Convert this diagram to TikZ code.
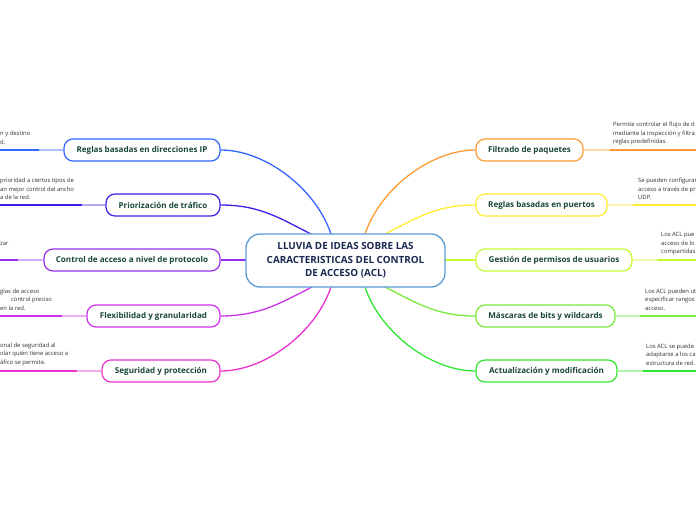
\documentclass[tikz,border=0pt]{standalone}
\usepackage{fontspec}
\setmainfont{Open Sans}
\definecolor{cIP}{RGB}{51,102,255}
\definecolor{cPrio}{RGB}{64,32,230}
\definecolor{cCtrl}{RGB}{150,50,235}
\definecolor{cFlex}{RGB}{205,50,235}
\definecolor{cSeg}{RGB}{235,50,205}
\definecolor{cFilt}{RGB}{255,155,50}
\definecolor{cPuer}{RGB}{255,235,50}
\definecolor{cGest}{RGB}{200,250,50}
\definecolor{cMasc}{RGB}{120,235,60}
\definecolor{cAct}{RGB}{50,230,50}
\definecolor{cCenter}{RGB}{90,155,215}
\definecolor{tCenter}{RGB}{25,40,80}
\definecolor{tBranch}{RGB}{25,70,55}
\definecolor{tSub}{RGB}{50,50,50}
\tikzset{
  branch/.style={draw=#1, line width=1.2bp, rounded corners=9bp, fill=white,
    minimum height=22bp, inner sep=0pt, text=tBranch,
    font=\fontsize{8.1}{9}\selectfont\bfseries},
  centerbox/.style={draw=cCenter, line width=1.3bp, rounded corners=14bp, fill=white,
    minimum width=199bp, minimum height=53bp, inner sep=0pt, align=center, text=tCenter,
    font=\fontsize{9.9}{13.5}\selectfont\bfseries},
  conn/.style={draw=#1, line width=1.3bp},
  lightseg/.style={draw=#1!40, line width=1.3bp},
  darkseg/.style={draw=#1, line width=1.8bp},
  subtxt/.style={anchor=base west, inner sep=0pt, text=tSub, font=\fontsize{5.9}{8.5}\selectfont}
}
\begin{document}
\begin{tikzpicture}[x=1bp,y=-1bp]
\useasboundingbox[fill=white] (0,0) rectangle (696,520);

% connector anchor points on the centre node
\coordinate (t1) at (311,234);
\coordinate (t2) at (331,234);
\coordinate (t3) at (365,234);
\coordinate (t4) at (385,234);
\coordinate (b1) at (312,287);
\coordinate (b2) at (331,287);
\coordinate (b3) at (365,287);
\coordinate (b4) at (385,287);

% branch nodes
\node[branch=cIP,   minimum width=156bp] (ip)   at (142,150)   {Reglas basadas en direcciones IP};
\node[branch=cPrio, minimum width=114bp] (prio) at (163,205)   {Priorización de tráfico};
\node[branch=cCtrl, minimum width=176bp] (ctrl) at (132,260)   {Control de acceso a nivel de protocolo};
\node[branch=cFlex, minimum width=133bp] (flex) at (153.5,316) {Flexibilidad y granularidad};
\node[branch=cSeg,  minimum width=118bp] (seg)  at (161,371)   {Seguridad y protección};
\node[branch=cFilt, minimum width=107bp] (filt) at (529.5,150) {Filtrado de paquetes};
\node[branch=cPuer, minimum width=131bp] (puer) at (541.5,205) {Reglas basadas en puertos};
\node[branch=cGest, minimum width=156bp] (gest) at (554,260)   {Gestión de permisos de usuarios};
\node[branch=cMasc, minimum width=139bp] (masc) at (545.5,316) {Máscaras de bits y wildcards};
\node[branch=cAct,  minimum width=141bp] (act)  at (546.5,371) {Actualización y modificación};

% connectors to centre
\draw[conn=cIP]   (ip.east)   .. controls +(45,0)  and +(-15,-45) .. (t2);
\draw[conn=cPrio] (prio.east) .. controls +(40,0)  and +(-30,-15) .. (t1);
\draw[conn=cCtrl] (ctrl.east) -- (345.5,260);
\draw[conn=cFlex] (flex.east) .. controls +(40,0)  and +(-30,15)  .. (b1);
\draw[conn=cSeg]  (seg.east)  .. controls +(45,0)  and +(-15,45)  .. (b2);
\draw[conn=cFilt] (filt.west) .. controls +(-45,0) and +(15,-45)  .. (t3);
\draw[conn=cPuer] (puer.west) .. controls +(-40,0) and +(30,-15)  .. (t4);
\draw[conn=cGest] (gest.west) -- (345.5,260);
\draw[conn=cMasc] (masc.west) .. controls +(-40,0) and +(30,15)   .. (b4);
\draw[conn=cAct]  (act.west)  .. controls +(-45,0) and +(15,45)   .. (b3);

% centre node
\node[centerbox] (c) at (345.5,260.5) {LLUVIA DE IDEAS SOBRE LAS\\CARACTERISTICAS DEL CONTROL\\DE ACCESO (ACL)};

% sub-topic lines (left)
\coordinate (ipL) at (39,150);   \coordinate (ipE) at (0,150);
\coordinate (prioL) at (82,205); \coordinate (prioE) at (0,205);
\coordinate (ctrlL) at (18,260); \coordinate (ctrlE) at (0,260);
\coordinate (flexL) at (62,316); \coordinate (flexE) at (0,316);
\coordinate (segL) at (77,371);  \coordinate (segE) at (0,371);
\draw[lightseg=cIP] (ip.west) -- (ipL);     \draw[darkseg=cIP] (ipL) -- (ipE);
\draw[lightseg=cPrio] (prio.west) -- (prioL); \draw[darkseg=cPrio] (prioL) -- (prioE);
\draw[lightseg=cCtrl] (ctrl.west) -- (ctrlL); \draw[darkseg=cCtrl] (ctrlL) -- (ctrlE);
\draw[lightseg=cFlex] (flex.west) -- (flexL); \draw[darkseg=cFlex] (flexL) -- (flexE);
\draw[lightseg=cSeg] (seg.west) -- (segL);   \draw[darkseg=cSeg] (segL) -- (segE);

% sub-topic lines (right)
\coordinate (filtR) at (610,150); \coordinate (filtE) at (696,150);
\coordinate (puerR) at (633,205); \coordinate (puerE) at (696,205);
\coordinate (gestR) at (657,260); \coordinate (gestE) at (696,260);
\coordinate (mascR) at (640,316); \coordinate (mascE) at (696,316);
\coordinate (actR) at (643,371);  \coordinate (actE) at (696,371);
\draw[lightseg=cFilt] (filt.east) -- (filtR); \draw[darkseg=cFilt] (filtR) -- (filtE);
\draw[lightseg=cPuer] (puer.east) -- (puerR); \draw[darkseg=cPuer] (puerR) -- (puerE);
\draw[lightseg=cGest] (gest.east) -- (gestR); \draw[darkseg=cGest] (gestR) -- (gestE);
\draw[lightseg=cMasc] (masc.east) -- (mascR); \draw[darkseg=cMasc] (mascR) -- (mascE);
\draw[lightseg=cAct] (act.east) -- (actR);    \draw[darkseg=cAct] (actR) -- (actE);

% sub-topic texts (left, cut at the page edge)
\node[subtxt] (ip1) at (0,136) {n y destino};
\node[subtxt] (ip2) at (0,144.5) {d.};
\node[subtxt] (pr1) at (0,183) {prioridad a ciertos tipos de};
\node[subtxt] (pr2) at (0,191.5) {an mejor control del ancho};
\node[subtxt] (pr3) at (0,200) {a de la red.};
\node[subtxt] (ct1) at (0,246) {zar};
\node[subtxt] (fl1) at (0,293) {glas de acceso};
\node[subtxt] (fl2) at (11,301.5) {control preciso};
\node[subtxt] (fl3) at (0,310) {en la red.};
\node[subtxt] (sg1) at (0,347) {onal de seguridad al};
\node[subtxt] (sg2) at (0,355.5) {olar quién tiene acceso a};
\node[subtxt] (sg3) at (0,364) {áfico se permite.};

% sub-topic texts (right)
\node[subtxt] (fi1) at (613,127) {Permite controlar el flujo de d};
\node[subtxt] (fi2) at (613,135.5) {mediante la inspección y filtra};
\node[subtxt] (fi3) at (613,144) {reglas predefinidas.};
\node[subtxt] (pu1) at (638,183) {Se pueden configurar};
\node[subtxt] (pu2) at (638,191.5) {acceso a través de pr};
\node[subtxt] (pu3) at (638,200) {UDP.};
\node[subtxt] (ge1) at (661,237) {Los ACL pue};
\node[subtxt] (ge2) at (661,245.5) {acceso de lo};
\node[subtxt] (ge3) at (661,254) {compartidas};
\node[subtxt] (ma1) at (645,293) {Los ACL pueden ut};
\node[subtxt] (ma2) at (645,301.5) {especificar rangos};
\node[subtxt] (ma3) at (645,310) {acceso.};
\node[subtxt] (ac1) at (646,348) {Los ACL se puede};
\node[subtxt] (ac2) at (646,356.5) {adaptarse a los ca};
\node[subtxt] (ac3) at (646,365) {estructura de red.};
\end{tikzpicture}
\end{document}
